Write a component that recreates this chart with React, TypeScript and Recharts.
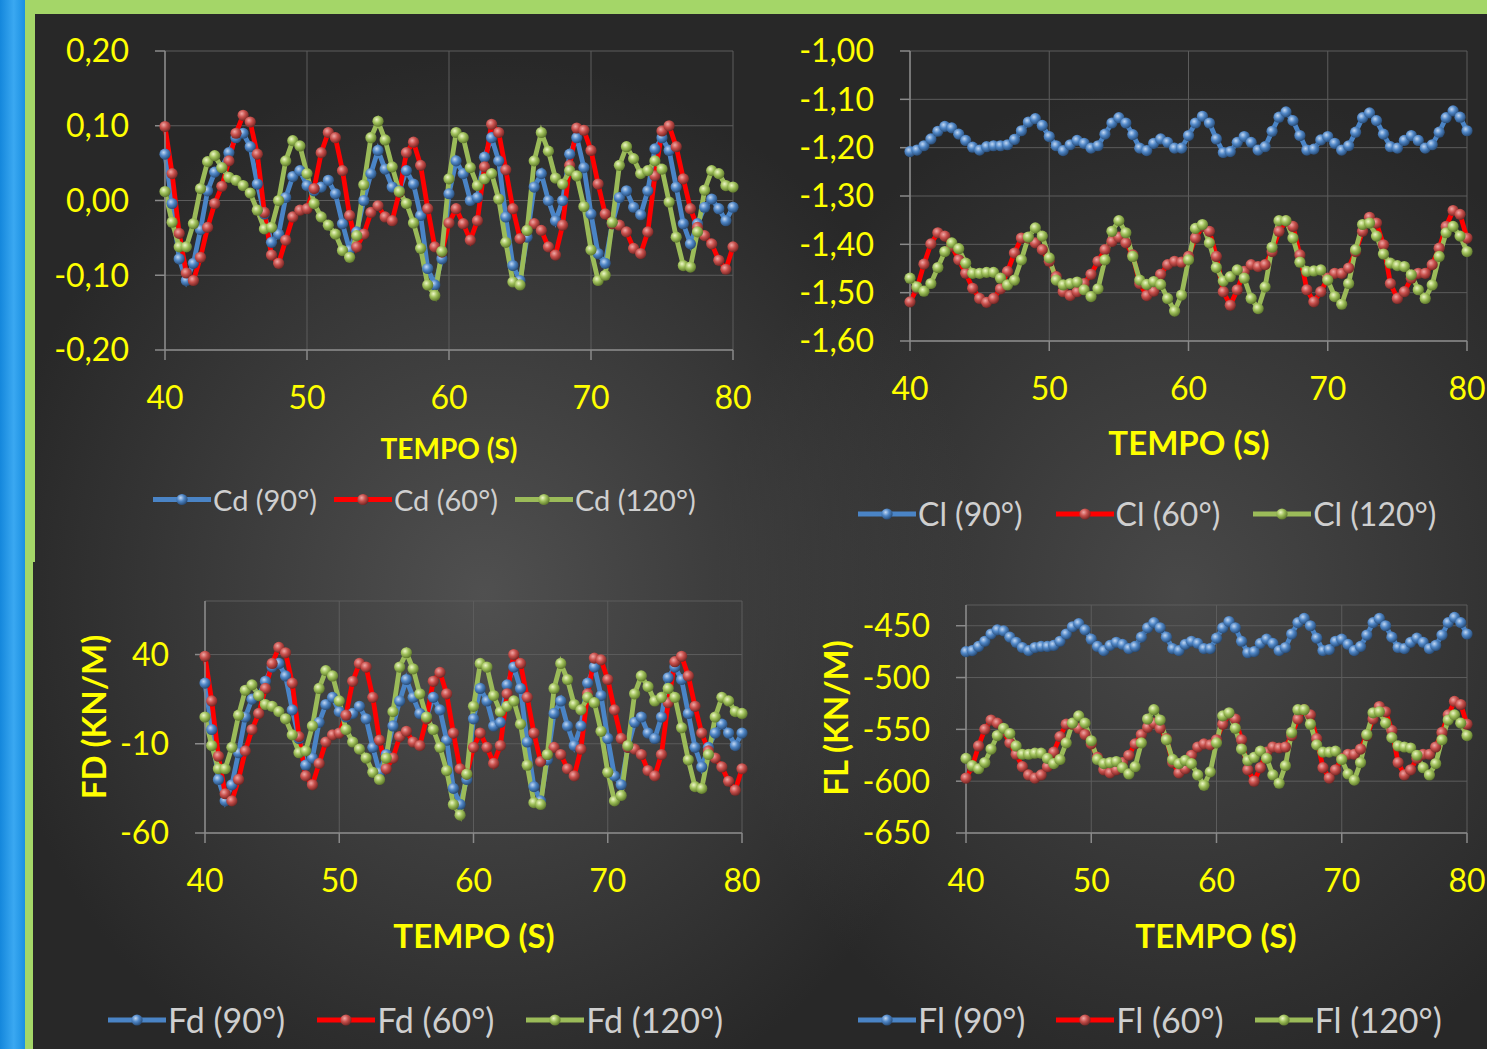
import React from 'react';
import { LineChart, Line, XAxis, YAxis, CartesianGrid } from 'recharts';

// tempo (s), passo 0,5
const time = [
  40, 40.5, 41, 41.5, 42, 42.5, 43, 43.5, 44, 44.5, 45, 45.5, 46, 46.5, 47, 47.5, 48, 48.5, 49, 49.5,
  50, 50.5, 51, 51.5, 52, 52.5, 53, 53.5, 54, 54.5, 55, 55.5, 56, 56.5, 57, 57.5, 58, 58.5, 59, 59.5,
  60, 60.5, 61, 61.5, 62, 62.5, 63, 63.5, 64, 64.5, 65, 65.5, 66, 66.5, 67, 67.5, 68, 68.5, 69, 69.5,
  70, 70.5, 71, 71.5, 72, 72.5, 73, 73.5, 74, 74.5, 75, 75.5, 76, 76.5, 77, 77.5, 78, 78.5, 79, 79.5, 80,
];

const cd90 = [
  0.062, -0.004, -0.078, -0.107, -0.084, -0.039, 0.013, 0.038, 0.044, 0.064,
  0.084, 0.090, 0.072, 0.022, -0.018, -0.056, -0.045, 0.004, 0.032, 0.040,
  0.020, 0.013, 0.018, 0.027, 0.009, -0.031, -0.066, -0.042, 0.000, 0.036,
  0.067, 0.042, 0.018, 0.013, 0.040, 0.022, -0.020, -0.091, -0.113, -0.078,
  0.009,
  0.053, 0.036, 0.000, 0.004, 0.058, 0.084, 0.053, -0.022, -0.087, -0.107,
  -0.049, 0.018, 0.036, 0.000, -0.027, 0.000, 0.062, 0.084, 0.044, -0.018,
  -0.071, -0.084, -0.031, 0.004, 0.013, -0.009, -0.019, 0.013, 0.069, 0.084,
  0.067, 0.018, -0.031, -0.058, -0.031, -0.009, 0.002, -0.011, -0.027, -0.009,
];
const cd60 = [
  0.099, 0.036, -0.044, -0.097, -0.107, -0.076, -0.036, -0.004, 0.019, 0.053,
  0.090, 0.114, 0.105, 0.062, -0.016, -0.073, -0.084, -0.053, -0.022, -0.013,
  -0.011, 0.016, 0.064, 0.091, 0.084, 0.040, -0.020, -0.062, -0.045, -0.016,
  -0.007, -0.022, -0.027, 0.011, 0.064, 0.078, 0.047, -0.011, -0.062, -0.069,
  -0.030,
  -0.011, -0.031, -0.053, -0.027, 0.045, 0.102, 0.091, 0.041, -0.011, -0.051,
  -0.040, -0.031, -0.040, -0.062, -0.073, -0.033, 0.047, 0.097, 0.094, 0.067,
  0.022, -0.018, -0.031, -0.033, -0.042, -0.064, -0.071, -0.042, 0.033, 0.093,
  0.100, 0.072, 0.029, -0.011, -0.036, -0.047, -0.058, -0.080, -0.092, -0.062,
];
const cd120 = [
  0.012, -0.029, -0.062, -0.062, -0.031, 0.016, 0.052, 0.060, 0.044, 0.031,
  0.027, 0.020, 0.010, -0.013, -0.038, -0.036, 0.000, 0.053, 0.080, 0.073,
  0.036, -0.004, -0.022, -0.033, -0.045, -0.067, -0.076, -0.047, 0.021, 0.084,
  0.106, 0.081, 0.045, 0.012, -0.004, -0.030, -0.064, -0.113, -0.127, -0.068,
  0.029,
  0.091, 0.084, 0.044, 0.020, 0.029, 0.036, 0.002, -0.056, -0.109, -0.113,
  -0.040, 0.053, 0.091, 0.066, 0.030, 0.022, 0.040, 0.033, -0.008, -0.066,
  -0.107, -0.100, -0.029, 0.047, 0.072, 0.056, 0.036, 0.040, 0.053, 0.042,
  -0.002, -0.049, -0.087, -0.089, -0.042, 0.014, 0.040, 0.036, 0.020, 0.018,
];

const cl90 = [
  -1.208, -1.205, -1.196, -1.182, -1.166, -1.156, -1.159, -1.172, -1.185, -1.199,
  -1.205, -1.198, -1.196, -1.196, -1.194, -1.183, -1.165, -1.147, -1.140, -1.154,
  -1.177, -1.196, -1.206, -1.194, -1.185, -1.191, -1.201, -1.196, -1.172, -1.149,
  -1.138, -1.149, -1.173, -1.201, -1.206, -1.191, -1.182, -1.189, -1.201, -1.201,
  -1.175,
  -1.149, -1.135, -1.149, -1.182, -1.210, -1.208, -1.189, -1.177, -1.189, -1.205,
  -1.198, -1.166, -1.137, -1.126, -1.144, -1.175, -1.205, -1.203, -1.184, -1.177,
  -1.191, -1.205, -1.196, -1.168, -1.138, -1.128, -1.144, -1.172, -1.198, -1.201,
  -1.185, -1.175, -1.185, -1.201, -1.194, -1.168, -1.138, -1.124, -1.137, -1.165,
];
const cl60 = [
  -1.519, -1.491, -1.441, -1.399, -1.376, -1.383, -1.404, -1.432, -1.460, -1.491,
  -1.512, -1.520, -1.512, -1.492, -1.456, -1.418, -1.387, -1.387, -1.397, -1.411,
  -1.435, -1.467, -1.498, -1.506, -1.498, -1.481, -1.462, -1.435, -1.411, -1.394,
  -1.385, -1.397, -1.422, -1.481, -1.506, -1.497, -1.462, -1.442, -1.435, -1.437,
  -1.425,
  -1.387, -1.363, -1.373, -1.425, -1.498, -1.526, -1.494, -1.456, -1.442, -1.446,
  -1.442, -1.415, -1.373, -1.352, -1.363, -1.422, -1.494, -1.519, -1.498, -1.470,
  -1.460, -1.460, -1.449, -1.415, -1.373, -1.344, -1.356, -1.401, -1.481, -1.512,
  -1.498, -1.470, -1.460, -1.460, -1.442, -1.408, -1.363, -1.330, -1.338, -1.387,
];
const cl120 = [
  -1.470, -1.488, -1.497, -1.481, -1.448, -1.415, -1.397, -1.409, -1.439, -1.460,
  -1.460, -1.458, -1.458, -1.470, -1.484, -1.474, -1.432, -1.385, -1.366, -1.383,
  -1.428, -1.474, -1.484, -1.481, -1.478, -1.494, -1.508, -1.492, -1.432, -1.373,
  -1.351, -1.376, -1.425, -1.474, -1.483, -1.477, -1.483, -1.512, -1.538, -1.505,
  -1.432,
  -1.367, -1.359, -1.397, -1.448, -1.476, -1.467, -1.453, -1.470, -1.512, -1.533,
  -1.488, -1.406, -1.351, -1.351, -1.387, -1.437, -1.456, -1.455, -1.453, -1.474,
  -1.508, -1.524, -1.481, -1.411, -1.359, -1.356, -1.383, -1.420, -1.439, -1.444,
  -1.446, -1.463, -1.494, -1.512, -1.484, -1.425, -1.376, -1.363, -1.383, -1.415,
];

const fd90 = [
  24, -2, -30, -42, -33, -15, 5, 15, 17, 25,
  33, 35, 28, 9, -7, -22, -18, 2, 12, 16,
  8, 5, 7, 11, 4, -12, -26, -16, 0, 14,
  26, 16, 7, 5, 16, 9, -8, -35, -44, -30,
  4,
  21, 14, 0, 2, 23, 33, 21, -9, -34, -42,
  -19, 7, 14, 0, -11, 0, 24, 33, 17, -7,
  -28, -33, -12, 2, 5, -4, -7, 5, 27, 33,
  26, 7, -12, -23, -12, -4, 1, -4, -11, -4,
];
const fd60 = [
  39, 14, -17, -38, -42, -30, -14, -2, 7, 21,
  35, 44, 41, 24, -6, -28, -33, -21, -9, -5,
  -4, 6, 25, 35, 33, 16, -8, -24, -18, -6,
  -3, -9, -11, 4, 25, 30, 18, -4, -24, -27,
  -12,
  -4, -12, -21, -11, 18, 40, 35, 16, -4, -20,
  -16, -12, -16, -24, -28, -13, 18, 38, 37, 26,
  9, -7, -12, -13, -16, -25, -28, -16, 13, 36,
  39, 28, 11, -4, -14, -18, -23, -31, -36, -24,
];
const fd120 = [
  5, -11, -24, -24, -12, 6, 20, 23, 17, 12,
  11, 8, 4, -5, -15, -14, 0, 21, 31, 28,
  14, -2, -9, -13, -18, -26, -30, -18, 8, 33,
  41, 32, 18, 5, -2, -12, -25, -44, -50, -27,
  11,
  35, 33, 17, 8, 11, 14, 1, -22, -43, -44,
  -16, 21, 35, 26, 12, 9, 16, 13, -3, -26,
  -42, -39, -11, 18, 28, 22, 14, 16, 21, 16,
  -1, -19, -34, -35, -16, 5, 16, 14, 8, 7,
];

const fl90 = [
  -475, -474, -470, -465, -458, -454, -455, -461, -466, -471,
  -474, -471, -470, -470, -469, -465, -458, -451, -448, -454,
  -463, -470, -474, -469, -466, -468, -472, -470, -461, -452,
  -447, -452, -461, -472, -474, -468, -465, -467, -472, -472,
  -462,
  -452, -446, -452, -465, -476, -475, -467, -463, -467, -474,
  -471, -458, -447, -443, -450, -462, -474, -473, -465, -463,
  -468, -474, -470, -459, -447, -443, -450, -461, -471, -472,
  -466, -462, -466, -472, -469, -459, -447, -442, -447, -458,
];
const fl60 = [
  -597, -586, -566, -550, -541, -544, -552, -563, -574, -586,
  -594, -597, -594, -586, -572, -557, -545, -545, -549, -555,
  -564, -577, -589, -592, -589, -582, -575, -564, -555, -548,
  -544, -549, -559, -582, -592, -588, -575, -567, -564, -565,
  -560,
  -545, -536, -540, -560, -589, -600, -587, -572, -567, -568,
  -567, -556, -540, -531, -536, -559, -587, -597, -589, -578,
  -574, -574, -569, -556, -540, -528, -533, -551, -582, -594,
  -589, -578, -574, -574, -567, -553, -536, -523, -526, -545,
];
const fl120 = [
  -578, -585, -588, -582, -569, -556, -549, -554, -566, -574,
  -574, -573, -573, -578, -583, -579, -563, -544, -537, -544,
  -561, -579, -583, -582, -581, -587, -593, -586, -563, -540,
  -531, -541, -560, -579, -583, -580, -583, -594, -604, -591,
  -563,
  -537, -534, -549, -569, -580, -577, -571, -578, -594, -602,
  -585, -553, -531, -531, -545, -565, -572, -572, -571, -579,
  -593, -599, -582, -555, -534, -533, -544, -558, -566, -567,
  -568, -575, -587, -594, -583, -560, -541, -536, -544, -556,
];

const timeTicks = [40, 50, 60, 70, 80];
const cdTicks = [-0.2, -0.1, 0, 0.1, 0.2];
const clTicks = [-1.6, -1.5, -1.4, -1.3, -1.2, -1.1, -1.0];
const fdTicks = [-60, -10, 40];
const flTicks = [-650, -600, -550, -500, -450];

const cdNames = ['Cd (90°)', 'Cd (60°)', 'Cd (120°)'];
const clNames = ['Cl (90°)', 'Cl (60°)', 'Cl (120°)'];
const fdNames = ['Fd (90°)', 'Fd (60°)', 'Fd (120°)'];
const flNames = ['Fl (90°)', 'Fl (60°)', 'Fl (120°)'];

const FONT = "Lato, 'Open Sans', sans-serif";
const YELLOW = '#ffff00';
const AXIS = '#8a8a8a';
const GRID = '#5c5c5c';

const SERIES = [
  { key: 'a', line: '#4a84c6', ball: 'url(#ballBlue)' },
  { key: 'b', line: '#ff0000', ball: 'url(#ballRed)' },
  { key: 'c', line: '#9bbb59', ball: 'url(#ballGreen)' },
];

const rows = (a: number[], b: number[], c: number[]) =>
  time.map((t, i) => ({ t, a: a[i], b: b[i], c: c[i] }));

const comma = (d: number) => (v: number) =>
  (Math.abs(v) < 1e-9 ? 0 : v).toFixed(d).replace('.', ',');

type PanelProps = {
  left: number; top: number; width: number; height: number;
  yWidth: number; mTop: number; mRight: number; mBottom: number;
  domain: [number, number]; ticks: number[]; decimals: number;
  data: any[];
};

const Panel = (p: PanelProps) => (
  <div style={{ position: 'absolute', left: p.left, top: p.top }}>
    <LineChart
      width={p.width}
      height={p.height}
      data={p.data}
      margin={{ top: p.mTop, right: p.mRight, left: 0, bottom: p.mBottom }}
    >
      <CartesianGrid stroke={GRID} strokeWidth={1} />
      <XAxis
        type="number" dataKey="t" domain={[40, 80]} ticks={timeTicks} interval={0}
        height={60} tickSize={10} tickMargin={26}
        axisLine={{ stroke: AXIS, strokeWidth: 1.5 }} tickLine={{ stroke: AXIS, strokeWidth: 1.5 }}
        tick={{ fill: YELLOW, fontSize: 32, fontFamily: FONT }}
      />
      <YAxis
        type="number" domain={p.domain} ticks={p.ticks} interval={0} width={p.yWidth}
        tickSize={10} tickMargin={26} tickFormatter={comma(p.decimals)}
        axisLine={{ stroke: AXIS, strokeWidth: 1.5 }} tickLine={{ stroke: AXIS, strokeWidth: 1.5 }}
        tick={{ fill: YELLOW, fontSize: 32, fontFamily: FONT }}
      />
      {SERIES.map((s) => (
        <Line
          key={s.key}
          type="linear"
          dataKey={s.key}
          stroke={s.line}
          strokeWidth={4.8}
          dot={{ r: 5.6, fill: s.ball, stroke: 'none', strokeWidth: 0 }}
          activeDot={false}
          isAnimationActive={false}
        />
      ))}
    </LineChart>
  </div>
);

const LegendRow = ({ left, top, size, gap, names }: { left: number; top: number; size: number; gap: number; names: string[] }) => (
  <div
    style={{
      position: 'absolute', left, top, transform: 'translateY(-50%)',
      display: 'flex', alignItems: 'center', gap,
      fontFamily: FONT, fontSize: size, color: '#cfcfcf', lineHeight: 1, whiteSpace: 'nowrap',
    }}
  >
    {names.map((n, i) => (
      <div key={n} style={{ display: 'flex', alignItems: 'center' }}>
        <svg width={58} height={14}>
          <line x1={0} y1={7} x2={58} y2={7} stroke={SERIES[i].line} strokeWidth={5} />
          <circle cx={29} cy={7} r={5.6} fill={SERIES[i].ball} />
        </svg>
        <span style={{ marginLeft: 2 }}>{n}</span>
      </div>
    ))}
  </div>
);

const Title = ({ x, y, size, text, rotate }: { x: number; y: number; size: number; text: string; rotate?: boolean }) => (
  <div
    style={{
      position: 'absolute', left: x, top: y,
      transform: `translate(-50%, -50%)${rotate ? ' rotate(-90deg)' : ''}`,
      fontFamily: FONT, fontWeight: 700, fontSize: size, color: YELLOW, lineHeight: 1, whiteSpace: 'nowrap',
    }}
  >
    {text}
  </div>
);

const darkBg = [
  'radial-gradient(ellipse 34% 52% at 31% 56%, rgba(82,82,82,0.95) 0%, rgba(82,82,82,0) 100%)',
  'radial-gradient(ellipse 32% 50% at 79% 56%, rgba(76,76,76,0.9) 0%, rgba(76,76,76,0) 100%)',
  '#282828',
].join(', ');

export default function App() {
  return (
    <div style={{ position: 'fixed', left: 0, top: 0, width: 1487, height: 1049, overflow: 'hidden', background: '#a4d668' }}>
      <svg width={0} height={0} style={{ position: 'absolute' }}>
        <defs>
          <radialGradient id="ballBlue" cx="0.38" cy="0.35" r="0.7">
            <stop offset="0%" stopColor="#c2d8f4" />
            <stop offset="45%" stopColor="#4f86c6" />
            <stop offset="100%" stopColor="#23446c" />
          </radialGradient>
          <radialGradient id="ballRed" cx="0.38" cy="0.35" r="0.7">
            <stop offset="0%" stopColor="#f0a8a6" />
            <stop offset="45%" stopColor="#c8504c" />
            <stop offset="100%" stopColor="#6a2220" />
          </radialGradient>
          <radialGradient id="ballGreen" cx="0.38" cy="0.35" r="0.7">
            <stop offset="0%" stopColor="#eef7c8" />
            <stop offset="45%" stopColor="#9fc05a" />
            <stop offset="100%" stopColor="#566f26" />
          </radialGradient>
        </defs>
      </svg>

      <div style={{ position: 'absolute', left: 0, top: 0, width: 25, height: 1049, background: 'linear-gradient(90deg, #1487dc 0%, #3aa8f1 55%, #1a8fe2 100%)' }} />
      <div style={{ position: 'absolute', left: 33, top: 14, width: 1454, height: 1035, background: darkBg }} />
      <div style={{ position: 'absolute', left: 33, top: 14, width: 2, height: 548, background: '#a4d668' }} />

      <Panel left={35} top={14} width={735} height={548} yWidth={130} mTop={37} mRight={37} mBottom={152}
        domain={[-0.2, 0.2]} ticks={cdTicks} decimals={2} data={rows(cd90, cd60, cd120)} />
      <Panel left={770} top={14} width={717} height={548} yWidth={140} mTop={37} mRight={20} mBottom={161}
        domain={[-1.6, -1.0]} ticks={clTicks} decimals={2} data={rows(cl90, cl60, cl120)} />
      <Panel left={33} top={562} width={757} height={487} yWidth={172} mTop={39} mRight={48} mBottom={156}
        domain={[-60, 70]} ticks={fdTicks} decimals={0} data={rows(fd90, fd60, fd120)} />
      <Panel left={790} top={562} width={697} height={487} yWidth={176} mTop={43} mRight={20} mBottom={156}
        domain={[-650, -430]} ticks={flTicks} decimals={0} data={rows(fl90, fl60, fl120)} />

      <Title x={449} y={448} size={28} text="TEMPO (S)" />
      <Title x={1189} y={442} size={33} text="TEMPO (S)" />
      <Title x={474} y={935} size={33} text="TEMPO (S)" />
      <Title x={1216} y={935} size={33} text="TEMPO (S)" />
      <Title x={93} y={717} size={33} text="FD (KN/M)" rotate />
      <Title x={835} y={718} size={33} text="FL (KN/M)" rotate />

      <LegendRow left={153} top={499} size={29} gap={17} names={cdNames} />
      <LegendRow left={858} top={514} size={32} gap={33} names={clNames} />
      <LegendRow left={108} top={1020} size={34} gap={32} names={fdNames} />
      <LegendRow left={858} top={1020} size={34} gap={31} names={flNames} />
    </div>
  );
}
